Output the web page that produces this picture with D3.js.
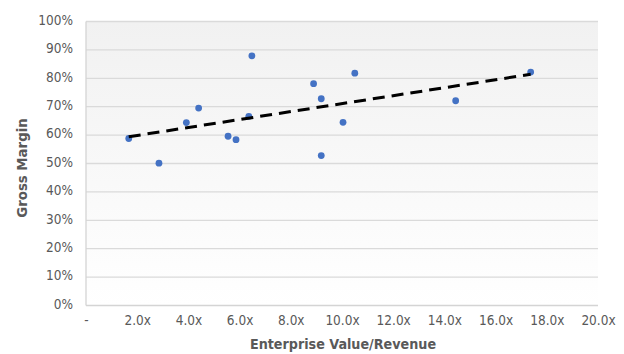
<!DOCTYPE html>
<html>
<head>
<meta charset="utf-8">
<script src="https://cdn.jsdelivr.net/npm/d3@7"></script>
<style>
  html, body { margin: 0; padding: 0; background: #ffffff; }
  svg { display: block; }
  text { font-family: "Liberation Sans Narrow", "DejaVu Sans Condensed", "Roboto", sans-serif; }
</style>
</head>
<body>
<svg id="chart" width="624" height="354"></svg>
<script>
// EV/Revenue multiple (x) against gross margin (%) for each company
const evRevenue   = [1.67, 2.85, 3.92, 4.40, 6.48, 5.55, 5.86, 6.36, 8.89, 9.19, 9.19, 10.04, 10.50, 14.44, 17.37];
const grossMargin = [58.8, 50.1, 64.4, 69.5, 87.9, 59.6, 58.4, 66.6, 78.1, 72.8, 52.8, 64.5, 81.8, 72.1, 82.2];

const xTicks = [0, 2, 4, 6, 8, 10, 12, 14, 16, 18, 20];
const xTickLabels = ["-", "2.0x", "4.0x", "6.0x", "8.0x", "10.0x", "12.0x", "14.0x", "16.0x", "18.0x", "20.0x"];
const yTicks = [0, 10, 20, 30, 40, 50, 60, 70, 80, 90, 100];
const yTickLabels = ["0%", "10%", "20%", "30%", "40%", "50%", "60%", "70%", "80%", "90%", "100%"];

const xTitle = "Enterprise Value/Revenue";
const yTitle = "Gross Margin";

const svg = d3.select("#chart");
const plot = { left: 86, right: 598, top: 21.5, bottom: 305.5 };

const x = d3.scaleLinear().domain([0, 20]).range([plot.left, plot.right]);
const y = d3.scaleLinear().domain([0, 100]).range([plot.bottom, plot.top]);

// soft vertical gradient behind the plot area
const defs = svg.append("defs");
const grad = defs.append("linearGradient").attr("id", "plotBg")
  .attr("x1", 0).attr("y1", 0).attr("x2", 0).attr("y2", 1);
grad.append("stop").attr("offset", "0%").attr("stop-color", "#f1f1f1");
grad.append("stop").attr("offset", "100%").attr("stop-color", "#ffffff");

svg.append("rect")
  .attr("x", plot.left).attr("y", plot.top)
  .attr("width", plot.right - plot.left).attr("height", plot.bottom - plot.top)
  .attr("fill", "url(#plotBg)");

// horizontal gridlines
svg.append("g").selectAll("line").data(yTicks.filter(d => d > 0)).join("line")
  .attr("x1", plot.left).attr("x2", plot.right)
  .attr("y1", d => y(d)).attr("y2", d => y(d))
  .attr("stroke", "#dadada").attr("stroke-width", 1.3);

// left and bottom borders
svg.append("line")
  .attr("x1", plot.left).attr("x2", plot.left)
  .attr("y1", plot.top).attr("y2", plot.bottom)
  .attr("stroke", "#d4d4d4").attr("stroke-width", 1.3);
svg.append("line")
  .attr("x1", plot.left).attr("x2", plot.right)
  .attr("y1", plot.bottom).attr("y2", plot.bottom)
  .attr("stroke", "#d4d4d4").attr("stroke-width", 1.3);

// axes (labels only)
const xAxis = d3.axisBottom(x).tickValues(xTicks)
  .tickFormat((d, i) => xTickLabels[i]).tickSize(0).tickPadding(10);
const gx = svg.append("g").attr("transform", `translate(0,${plot.bottom})`).call(xAxis);
gx.select(".domain").remove();
gx.selectAll("text").attr("fill", "#595959").attr("font-size", 13.5)
  .style("font-family", "'Liberation Sans Narrow', 'DejaVu Sans Condensed', sans-serif");

const yAxis = d3.axisLeft(y).tickValues(yTicks)
  .tickFormat((d, i) => yTickLabels[i]).tickSize(0).tickPadding(13);
const gy = svg.append("g").attr("transform", `translate(${plot.left},0)`).call(yAxis);
gy.select(".domain").remove();
gy.selectAll("text").attr("fill", "#595959").attr("font-size", 13.5).attr("dy", "0.2em")
  .style("font-family", "'Liberation Sans Narrow', 'DejaVu Sans Condensed', sans-serif");

// least-squares trendline across the range of the data
const n = evRevenue.length;
const mx = d3.mean(evRevenue), my = d3.mean(grossMargin);
let sxy = 0, sxx = 0;
for (let i = 0; i < n; i++) {
  sxy += (evRevenue[i] - mx) * (grossMargin[i] - my);
  sxx += (evRevenue[i] - mx) ** 2;
}
const slope = sxy / sxx, intercept = my - slope * mx;
const [xMin, xMax] = d3.extent(evRevenue);

// points
svg.append("g").selectAll("circle").data(evRevenue.map((v, i) => [v, grossMargin[i]])).join("circle")
  .attr("cx", d => x(d[0])).attr("cy", d => y(d[1])).attr("r", 3.4)
  .attr("fill", "#4472c4");

svg.append("line")
  .attr("x1", x(xMin)).attr("y1", y(intercept + slope * xMin))
  .attr("x2", x(xMax)).attr("y2", y(intercept + slope * xMax))
  .attr("stroke", "#000000").attr("stroke-width", 3)
  .attr("stroke-dasharray", "12,7");

// axis titles
svg.append("text")
  .attr("x", 343).attr("y", 349)
  .attr("text-anchor", "middle").attr("fill", "#595959")
  .attr("font-size", 14.2).attr("font-weight", "bold")
  .text(xTitle);

svg.append("text")
  .attr("transform", `translate(27,168) rotate(-90)`)
  .attr("text-anchor", "middle").attr("fill", "#595959")
  .attr("font-size", 14.8).attr("font-weight", "bold")
  .text(yTitle);
</script>
</body>
</html>
